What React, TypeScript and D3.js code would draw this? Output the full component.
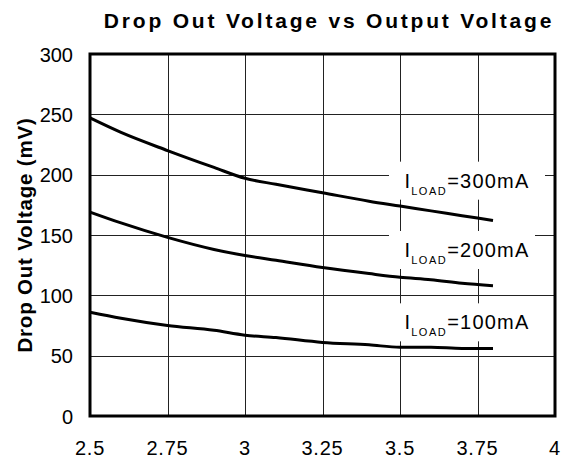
import * as d3 from 'd3';

const xTicks = [2.5, 2.75, 3, 3.25, 3.5, 3.75, 4];
const yTicks = [0, 50, 100, 150, 200, 250, 300];

const vout = [2.5, 2.6, 2.75, 2.9, 3.0, 3.1, 3.25, 3.4, 3.5, 3.6, 3.7, 3.8];
const load300 = [247, 235, 220, 206, 197, 192, 185, 178, 174, 170, 166, 162];
const load200 = [169, 160, 148, 138, 133, 129, 123, 118, 115, 113, 110, 108];
const load100 = [86, 81, 75, 71, 67, 65, 61, 59, 57, 57, 56, 56];

const seriesNames = ['300', '200', '100'];
const seriesValues = [load300, load200, load100];

const width = 563;
const height = 458;
const margin = { top: 54, right: 8, bottom: 42, left: 90 };
const font = '"Liberation Sans", Arial, sans-serif';

export default function App() {
  const x = d3
    .scaleLinear()
    .domain([2.5, 4])
    .range([margin.left, width - margin.right]);
  const y = d3
    .scaleLinear()
    .domain([0, 300])
    .range([height - margin.bottom, margin.top]);

  const line = d3
    .line<number>()
    .x((_, i) => x(vout[i]))
    .y((d) => y(d))
    .curve(d3.curveMonotoneX);

  // label baselines, placed relative to the grid
  const labelY = [y(200) + 13, y(150) + 22, y(100) + 34];
  const boxW = [156, 146, 146];

  return (
    <svg
      width={width}
      height={height}
      style={{ position: 'absolute', left: 0, top: 0, background: '#fff' }}
    >
      <text
        x={329}
        y={28}
        textAnchor="middle"
        fontFamily={font}
        fontWeight="bold"
        fontSize={21}
        letterSpacing={2.8}
      >
        Drop Out Voltage vs Output Voltage
      </text>

      {/* grid */}
      {xTicks.slice(1, -1).map((t) => (
        <line
          key={'gx' + t}
          x1={Math.round(x(t)) + 0.5}
          x2={Math.round(x(t)) + 0.5}
          y1={y(300)}
          y2={y(0)}
          stroke="#222"
          strokeWidth={1}
        />
      ))}
      {yTicks.slice(1, -1).map((t) => (
        <line
          key={'gy' + t}
          x1={x(2.5)}
          x2={x(4)}
          y1={Math.round(y(t)) + 0.5}
          y2={Math.round(y(t)) + 0.5}
          stroke="#222"
          strokeWidth={1}
        />
      ))}

      {/* curves */}
      {seriesValues.map((vals, i) => (
        <path
          key={seriesNames[i]}
          d={line(vals) ?? ''}
          fill="none"
          stroke="#000"
          strokeWidth={3}
          strokeLinejoin="round"
        />
      ))}

      {/* series labels */}
      {seriesNames.map((name, i) => (
        <g key={'lab' + name}>
          <rect
            x={389}
            y={labelY[i] - 26}
            width={boxW[i]}
            height={38}
            fill="#fff"
          />
          <text
            x={467}
            y={labelY[i]}
            textAnchor="middle"
            fontFamily={font}
            fontSize={20}
            letterSpacing={1.2}
          >
            I
            <tspan fontSize={11} dy={7} letterSpacing={1.5}>
              LOAD
            </tspan>
            <tspan dy={-7}>={name}mA</tspan>
          </text>
        </g>
      ))}

      {/* frame */}
      <rect
        x={x(2.5)}
        y={y(300)}
        width={x(4) - x(2.5)}
        height={y(0) - y(300)}
        fill="none"
        stroke="#000"
        strokeWidth={3}
      />

      {/* tick labels */}
      {yTicks.map((t) => (
        <text
          key={'ty' + t}
          x={73}
          y={y(t) + 7.5}
          textAnchor="end"
          fontFamily={font}
          fontSize={20}
        >
          {t}
        </text>
      ))}
      {xTicks.map((t) => (
        <text
          key={'tx' + t}
          x={x(t)}
          y={455}
          textAnchor="middle"
          fontFamily={font}
          fontSize={20}
          letterSpacing={0.8}
        >
          {t}
        </text>
      ))}

      <text
        transform="translate(32,235) rotate(-90)"
        textAnchor="middle"
        fontFamily={font}
        fontWeight="bold"
        fontSize={20.5}
        letterSpacing={0.8}
      >
        Drop Out Voltage (mV)
      </text>
    </svg>
  );
}
